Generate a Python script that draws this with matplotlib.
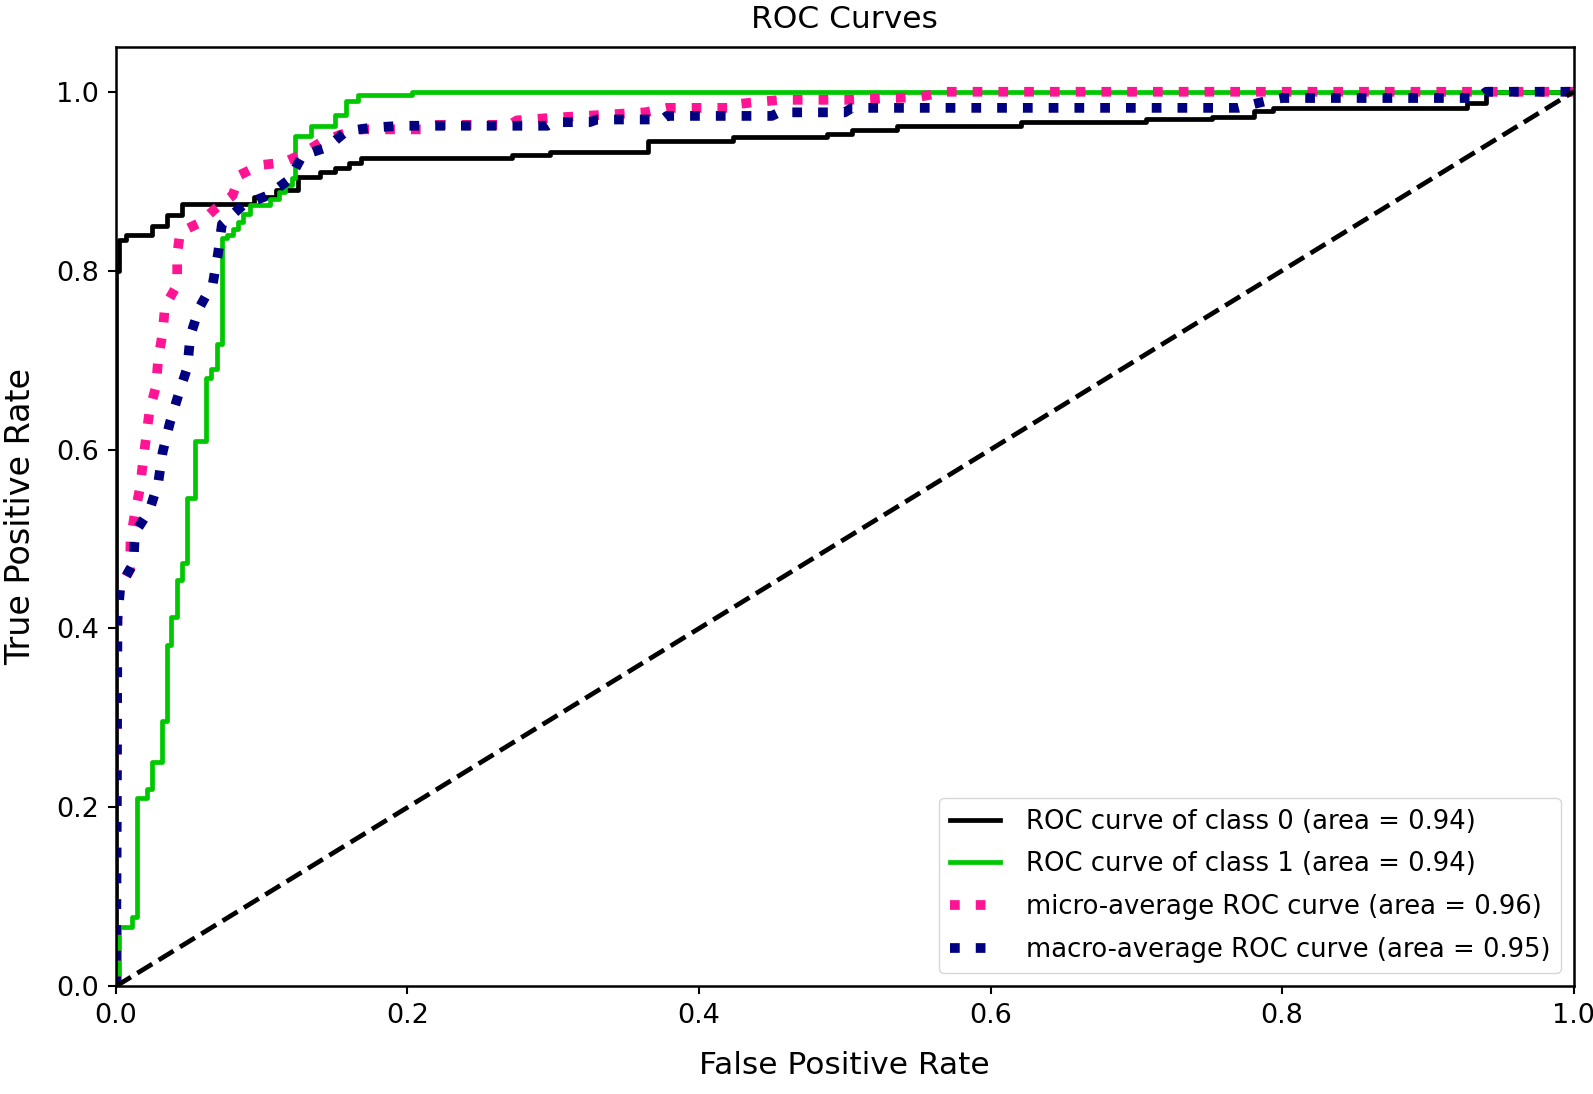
import matplotlib
matplotlib.use("Agg")
import matplotlib.pyplot as plt

# class 0 (black) ROC curve, step vertices
fpr0 = [0, 0, 0.002, 0.002, 0.007, 0.007, 0.025, 0.025, 0.035, 0.035, 0.045, 0.045,
        0.095, 0.095, 0.11, 0.11, 0.125, 0.125, 0.14, 0.14, 0.15, 0.15, 0.16, 0.16,
        0.168, 0.168, 0.272, 0.272, 0.298, 0.298, 0.365, 0.365, 0.423, 0.423,
        0.488, 0.488, 0.505, 0.505, 0.536, 0.536, 0.621, 0.621, 0.707, 0.707,
        0.752, 0.752, 0.781, 0.781, 0.794, 0.794, 0.927, 0.927, 0.94, 0.94, 1.0]
tpr0 = [0, 0.80, 0.80, 0.834, 0.834, 0.84, 0.84, 0.85, 0.85, 0.862, 0.862, 0.875,
        0.875, 0.882, 0.882, 0.89, 0.89, 0.905, 0.905, 0.91, 0.91, 0.915, 0.915, 0.92,
        0.92, 0.926, 0.926, 0.929, 0.929, 0.933, 0.933, 0.945, 0.945, 0.949,
        0.949, 0.953, 0.953, 0.957, 0.957, 0.962, 0.962, 0.966, 0.966, 0.969,
        0.969, 0.972, 0.972, 0.979, 0.979, 0.982, 0.982, 0.987, 0.987, 1.0, 1.0]

# class 1 (green) ROC curve
fpr1 = [0, 0.002, 0.002, 0.011, 0.011, 0.0145, 0.0145, 0.021, 0.021, 0.0245, 0.0245,
        0.0315, 0.0315, 0.035, 0.035, 0.038, 0.038, 0.042, 0.042, 0.045, 0.045,
        0.0487, 0.0487, 0.054, 0.054, 0.062, 0.062, 0.065, 0.065, 0.069, 0.069,
        0.0727, 0.0727, 0.076, 0.076, 0.080, 0.080, 0.084, 0.084, 0.087, 0.087,
        0.092, 0.092, 0.106, 0.106, 0.112, 0.112, 0.116, 0.116, 0.121, 0.121,
        0.123, 0.123, 0.134, 0.134, 0.150, 0.150, 0.158, 0.158, 0.166, 0.166,
        0.203, 0.203, 1.0]
tpr1 = [0, 0, 0.066, 0.066, 0.077, 0.077, 0.21, 0.21, 0.221, 0.221, 0.251,
        0.251, 0.296, 0.296, 0.381, 0.381, 0.413, 0.413, 0.454, 0.454, 0.473,
        0.473, 0.546, 0.546, 0.61, 0.61, 0.68, 0.68, 0.69, 0.69, 0.718,
        0.718, 0.836, 0.836, 0.84, 0.84, 0.847, 0.847, 0.854, 0.854, 0.863,
        0.863, 0.873, 0.873, 0.88, 0.88, 0.888, 0.888, 0.896, 0.896, 0.904,
        0.904, 0.95, 0.95, 0.962, 0.962, 0.974, 0.974, 0.99, 0.99, 0.996,
        0.996, 1.0, 1.0]

# micro-average
fpr_micro = [0, 0.001, 0.0096, 0.01, 0.013, 0.0165, 0.0185, 0.021, 0.023, 0.0275,
             0.029, 0.032, 0.0336, 0.042, 0.042, 0.044, 0.058, 0.068, 0.080, 0.085,
             0.099, 0.115, 0.126, 0.140, 0.154, 0.169, 0.21, 0.22, 0.27, 0.275,
             0.30, 0.332, 0.363, 0.378, 0.423, 0.425, 0.442, 0.457, 0.503, 0.55,
             0.57, 1.0]
tpr_micro = [0, 0.44, 0.466, 0.499, 0.529, 0.557, 0.586, 0.618, 0.643, 0.671,
             0.702, 0.73, 0.76, 0.784, 0.818, 0.843, 0.854, 0.869, 0.884, 0.907,
             0.918, 0.921, 0.929, 0.943, 0.952, 0.958, 0.958, 0.963, 0.963, 0.968,
             0.971, 0.974, 0.977, 0.982, 0.982, 0.986, 0.989, 0.991, 0.991, 0.994,
             1.0, 1.0]

# macro-average
fpr_macro = [0, 0.001, 0.003, 0.012, 0.013, 0.023, 0.029, 0.032, 0.037, 0.043,
             0.049, 0.051, 0.057, 0.0665, 0.070, 0.0727, 0.087, 0.104, 0.119, 0.128,
             0.145, 0.158, 0.176, 0.196, 0.296, 0.30, 0.325, 0.33, 0.375, 0.378,
             0.45, 0.455, 0.5, 0.505, 0.77, 0.79, 0.80, 0.935, 0.94, 1.0]
tpr_macro = [0, 0.41, 0.447, 0.473, 0.507, 0.532, 0.563, 0.597, 0.63, 0.662,
             0.692, 0.727, 0.758, 0.786, 0.819, 0.852, 0.873, 0.884, 0.902, 0.929,
             0.938, 0.956, 0.96, 0.962, 0.962, 0.966, 0.966, 0.969, 0.969, 0.973,
             0.973, 0.977, 0.977, 0.982, 0.982, 0.99, 0.993, 0.993, 1.0, 1.0]

labels = ["ROC curve of class 0 (area = 0.94)",
          "ROC curve of class 1 (area = 0.94)",
          "micro-average ROC curve (area = 0.96)",
          "macro-average ROC curve (area = 0.95)"]

fig = plt.figure(figsize=(15.93, 10.94), dpi=100)
ax = fig.add_axes([0.0728, 0.0985, 0.915, 0.8585])

ax.plot(fpr0, tpr0, color='black', lw=3.4, label=labels[0])
ax.plot(fpr1, tpr1, color='#00c800', lw=3.4, label=labels[1])
ax.plot(fpr_micro, tpr_micro, color='deeppink', ls=':', lw=7, label=labels[2])
ax.plot(fpr_macro, tpr_macro, color='navy', ls=':', lw=7, label=labels[3])
ax.plot([0, 1], [0, 1], 'k--', lw=3.4)

ax.set_xlim([0.0, 1.0])
ax.set_ylim([0.0, 1.05])
ax.set_title('ROC Curves', fontsize=22.5, pad=14)
ax.set_xlabel('False Positive Rate', fontsize=22.5, labelpad=16)
ax.set_ylabel('True Positive Rate', fontsize=24, labelpad=14)
ax.tick_params(labelsize=19.5, length=6, width=1.5, pad=6)
for s in ax.spines.values():
    s.set_linewidth(1.8)
ax.legend(loc='lower right', fontsize=18.6, labelspacing=0.65,
          handlelength=1.95, handletextpad=1.0, borderaxespad=0.5)

fig.savefig('out.png', dpi=100)
